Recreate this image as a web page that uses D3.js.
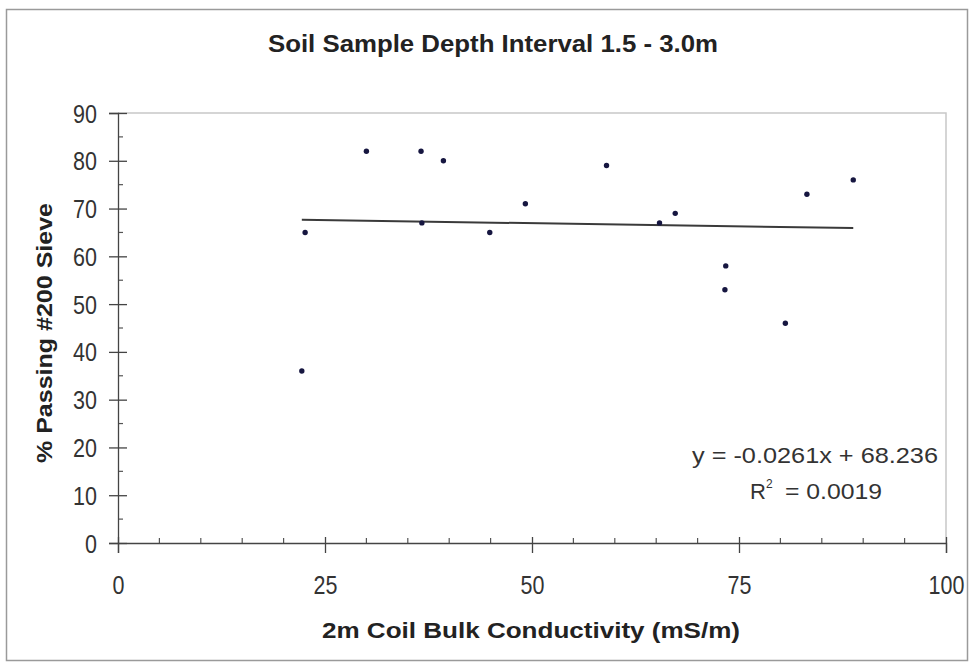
<!DOCTYPE html>
<html><head><meta charset="utf-8">
<script src="https://cdn.jsdelivr.net/npm/d3@7"></script>
<style>body{margin:0;background:#fff;}svg{display:block;font-family:"Liberation Sans",Arial,sans-serif;}</style>
</head><body>
<svg id="c" width="972" height="666"></svg>
<script>
const conductivity = [22.6, 22.2, 30.0, 36.6, 39.3, 36.7, 44.9, 49.2, 59.0, 65.4, 67.3, 73.4, 73.3, 80.6, 83.2, 88.8];
const passing200   = [65, 36, 82, 82, 80, 67, 65, 71, 79, 67, 69, 58, 53, 46, 73, 76];
const xTicks = [0, 25, 50, 75, 100];
const yTicks = [0, 10, 20, 30, 40, 50, 60, 70, 80, 90];
const slope = -0.0261, intercept = 68.236;
const title = "Soil Sample Depth Interval 1.5 - 3.0m";
const xTitle = "2m Coil Bulk Conductivity (mS/m)";
const yTitle = "% Passing #200 Sieve";
const eqText = "y = -0.0261x + 68.236";
const r2Value = "= 0.0019";

const svg = d3.select("#c");
const L = 118, R = 946, T = 113, B = 543;
const x = d3.scaleLinear().domain([0, 100]).range([L, R]);
const y = d3.scaleLinear().domain([0, 90]).range([B, T]);

function squeeze(sel, k) {
  sel.each(function () {
    const w = this.getComputedTextLength();
    d3.select(this).attr("textLength", w * k).attr("lengthAdjust", "spacingAndGlyphs");
  });
}

// outer frame
svg.append("rect").attr("x", 6.5).attr("y", 9.5).attr("width", 961).attr("height", 651)
  .attr("fill", "#fff").attr("stroke", "#9a9a9a").attr("stroke-width", 1.5);

// plot area top/right border
svg.append("path").attr("d", `M${L},${T}H${R}V${B}`).attr("fill", "none")
  .attr("stroke", "#c8c8c8").attr("stroke-width", 1.5);

// minor ticks
const xMinor = d3.range(0, 101, 5).filter(v => v % 25 !== 0);
svg.append("g").selectAll("line").data(xMinor).join("line")
  .attr("x1", d => x(d)).attr("x2", d => x(d)).attr("y1", B - 5).attr("y2", B + 1)
  .attr("stroke", "#555").attr("stroke-width", 1.2);
const yMinor = d3.range(5, 90, 10);
svg.append("g").selectAll("line").data(yMinor).join("line")
  .attr("x1", L).attr("x2", L + 5).attr("y1", d => y(d)).attr("y2", d => y(d))
  .attr("stroke", "#555").attr("stroke-width", 1.2);

// axes
const xAxis = d3.axisBottom(x).tickValues(xTicks).tickSize(10).tickPadding(0).tickFormat(d3.format("d"));
const gx = svg.append("g").attr("transform", `translate(0,${B})`).call(xAxis);
gx.select(".domain").attr("stroke", "#444").attr("stroke-width", 1.3);
gx.selectAll(".tick line").attr("stroke", "#444").attr("y1", -6).attr("stroke-width", 1.3);
gx.selectAll("text").attr("font-size", 25).attr("fill", "#333").attr("y", 51).attr("dy", 0)
  .attr("font-family", "Liberation Sans, Arial");
squeeze(gx.selectAll("text"), 0.86);

const yAxis = d3.axisLeft(y).tickValues(yTicks).tickSize(9).tickPadding(12);
const gy = svg.append("g").attr("transform", `translate(${L},0)`).call(yAxis);
gy.select(".domain").attr("stroke", "#444").attr("stroke-width", 1.3);
gy.selectAll(".tick line").attr("stroke", "#444").attr("x2", 9).attr("x1", -9).attr("stroke-width", 1.3);
gy.selectAll("text").attr("font-size", 25).attr("fill", "#333").attr("x", -21).attr("dy", "0.36em")
  .attr("font-family", "Liberation Sans, Arial");
squeeze(gy.selectAll("text"), 0.86);

// trend line
const xmin = d3.min(conductivity), xmax = d3.max(conductivity);
svg.append("line")
  .attr("x1", x(xmin)).attr("y1", y(slope * xmin + intercept))
  .attr("x2", x(xmax)).attr("y2", y(slope * xmax + intercept))
  .attr("stroke", "#3a3a3a").attr("stroke-width", 2);

// points
svg.append("g").selectAll("circle").data(conductivity.map((c, i) => [c, passing200[i]])).join("circle")
  .attr("cx", d => x(d[0])).attr("cy", d => y(d[1])).attr("r", 2.7).attr("fill", "#161640");

// titles
svg.append("text").attr("x", 493).attr("y", 52).attr("text-anchor", "middle")
  .attr("font-size", 23).attr("font-weight", "bold").attr("fill", "#222")
  .attr("textLength", 450).attr("lengthAdjust", "spacingAndGlyphs").text(title);
svg.append("text").attr("x", 531).attr("y", 638).attr("text-anchor", "middle")
  .attr("font-size", 22).attr("font-weight", "bold").attr("fill", "#222")
  .attr("textLength", 418).attr("lengthAdjust", "spacingAndGlyphs").text(xTitle);
svg.append("text").attr("transform", "translate(52,333) rotate(-90)").attr("text-anchor", "middle")
  .attr("font-size", 22).attr("font-weight", "bold").attr("fill", "#222")
  .attr("textLength", 260).attr("lengthAdjust", "spacingAndGlyphs").text(yTitle);

// equation
svg.append("text").attr("x", 938).attr("y", 463).attr("text-anchor", "end")
  .attr("font-size", 22).attr("fill", "#333")
  .attr("textLength", 246).attr("lengthAdjust", "spacingAndGlyphs").text(eqText);
svg.append("text").attr("x", 750).attr("y", 499).attr("font-size", 22).attr("fill", "#333").text("R");
svg.append("text").attr("x", 766).attr("y", 488).attr("font-size", 12).attr("fill", "#333").text("2");
svg.append("text").attr("x", 882).attr("y", 499).attr("text-anchor", "end")
  .attr("font-size", 22).attr("fill", "#333")
  .attr("textLength", 97).attr("lengthAdjust", "spacingAndGlyphs").text(r2Value);
</script>
</body></html>
